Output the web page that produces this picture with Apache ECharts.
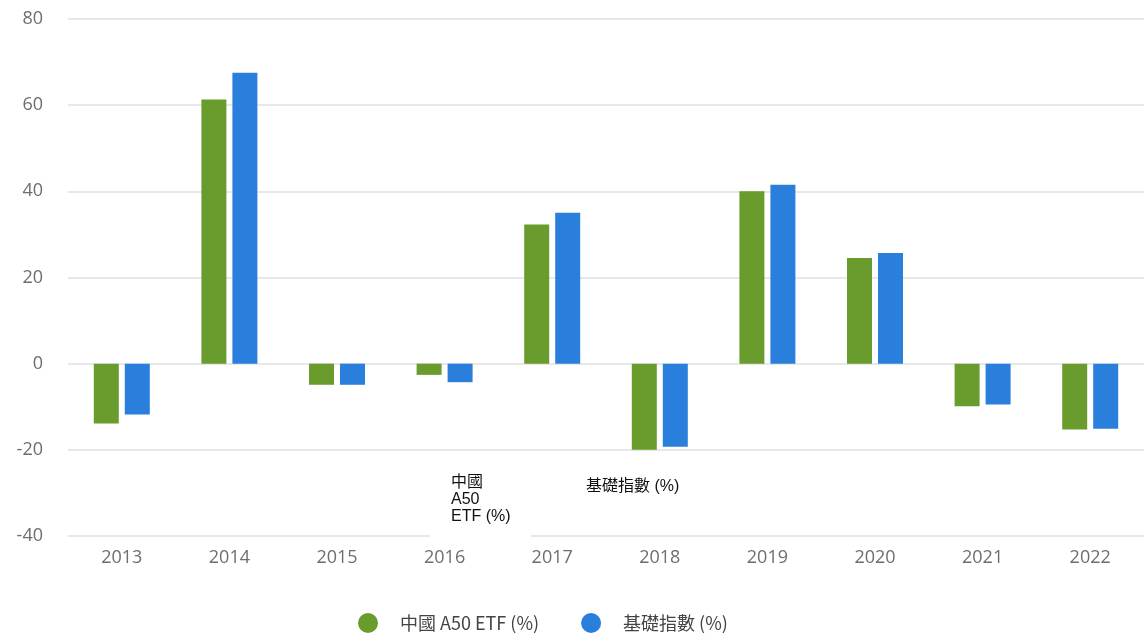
<!DOCTYPE html>
<html lang="zh-Hant">
<head>
    <meta charset="UTF-8">
    <title>中國 A50 ETF 年度表現</title>
    <script src="https://cdn.jsdelivr.net/npm/echarts@6/dist/echarts.min.js"></script>
    <style>
        html, body { margin: 0; padding: 0; background: #fff; }
    </style>
</head>
<body>
<div id="main" style="width: 1145px;height:633px;"></div>
<script type="text/javascript">
    // 年份及兩組回報 (%)
    var years = ['2013', '2014', '2015', '2016', '2017', '2018', '2019', '2020', '2021', '2022'];
    var etfReturn = [-13.9, 61.3, -4.9, -2.6, 32.3, -20.0, 40.0, 24.5, -9.9, -15.3];
    var indexReturn = [-11.8, 67.5, -4.9, -4.3, 35.0, -19.3, 41.5, 25.7, -9.5, -15.1];
    var seriesNames = ['中國 A50 ETF (%)', '基礎指數 (%)'];

    var myChart = echarts.init(document.getElementById('main'));
    myChart.setOption({
        animation: false,
        color: ['#6a9b2d', '#2b7fdc'],
        grid: { left: 68, right: 1, top: 19, bottom: 97 },
        legend: {
            top: 608,
            left: 353,
            icon: 'circle',
            itemWidth: 20,
            itemHeight: 20,
            itemGap: 42,
            data: seriesNames,
            textStyle: {
                fontFamily: 'Noto Sans CJK TC',
                fontSize: 18,
                color: '#444',
                padding: [0, 0, 0, 17]
            }
        },
        xAxis: {
            type: 'category',
            data: years,
            axisLine: { show: false },
            axisTick: { show: false },
            axisLabel: {
                margin: 13,
                fontFamily: 'Open Sans',
                fontSize: 18,
                color: '#6e6e6e'
            }
        },
        yAxis: {
            type: 'value',
            min: -40,
            max: 80,
            interval: 20,
            axisLabel: {
                margin: 25,
                fontFamily: 'Open Sans',
                fontSize: 18,
                color: '#6e6e6e'
            },
            splitLine: { lineStyle: { color: '#e8e8e8', width: 2 } }
        },
        series: [
            {
                name: seriesNames[0],
                type: 'bar',
                data: etfReturn,
                barWidth: 25,
                barGap: '24%'
            },
            {
                name: seriesNames[1],
                type: 'bar',
                data: indexReturn,
                barWidth: 25
            }
        ],
        graphic: [
            {
                type: 'rect',
                left: 430, top: 455,
                shape: { width: 101, height: 83 },
                style: { fill: '#fff' },
                z: 10
            },
            {
                type: 'text',
                left: 451, top: 474,
                z: 11,
                style: {
                    text: '中國\nA50\nETF (%)',
                    font: '16px "Liberation Sans", "Noto Sans CJK TC", sans-serif',
                    lineHeight: 17,
                    fill: '#111'
                }
            },
            {
                type: 'text',
                left: 586, top: 479,
                z: 11,
                style: {
                    text: '基礎指數 (%)',
                    font: '16px "Liberation Sans", "Noto Sans CJK TC", sans-serif',
                    fill: '#111'
                }
            }
        ]
    });
</script>
</body>
</html>
